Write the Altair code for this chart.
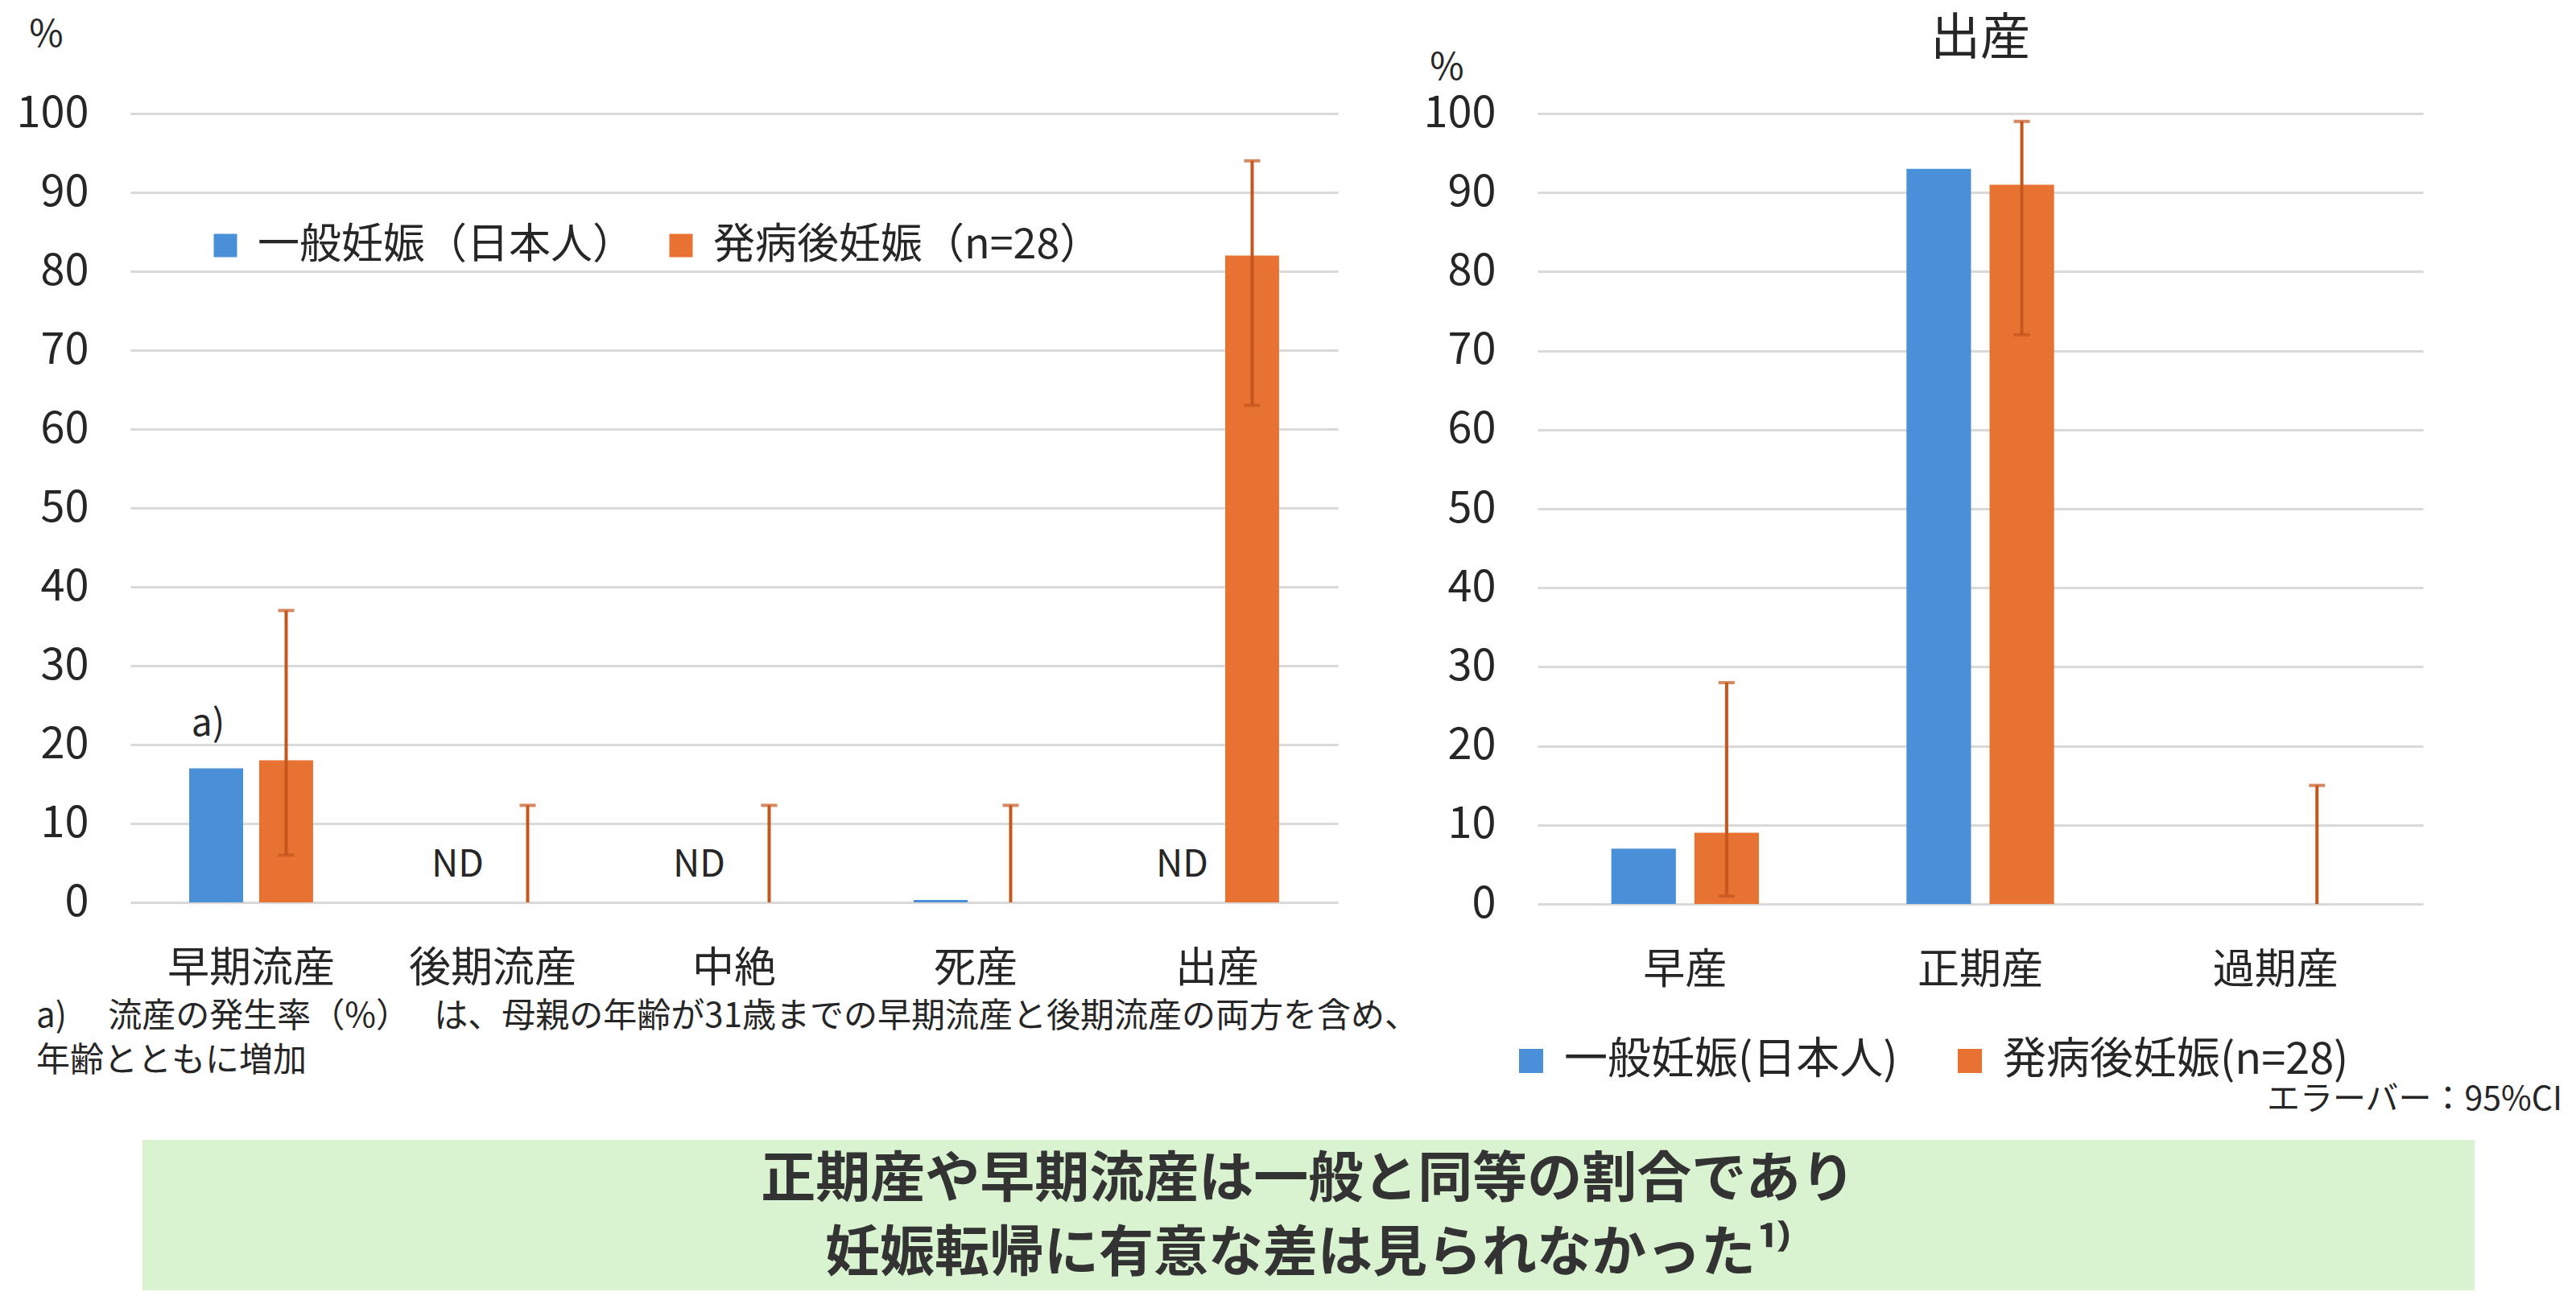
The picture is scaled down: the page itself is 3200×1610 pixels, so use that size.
import altair as alt
import pandas as pd

FONT = "Noto Sans CJK JP"
BLUE = "#4A90D9"
ORANGE = "#E87232"
ERR_C = "#C5561E"
GRID = "#D9D9D9"
TXT = "#262626"

# 左パネル: 妊娠転帰
left_cats = ["早期流産", "後期流産", "中絶", "死産", "出産"]
left_series = ["一般妊娠（日本人）", "発病後妊娠（n=28）"]
left_general = [17, 0, 0, 0.3, 0]
left_onset = [18, 0, 0, 0, 82]
left_ci_lo = [6, 0, 0, 0, 63]
left_ci_hi = [37, 12.3, 12.3, 12.3, 94]
left_nd = ["後期流産", "中絶", "出産"]
left_note = ["早期流産"]

# 右パネル: 出産
right_cats = ["早産", "正期産", "過期産"]
right_series = ["一般妊娠(日本人)", "発病後妊娠(n=28)"]
right_general = [7, 93, 0]
right_onset = [9, 91, 0]
right_ci_lo = [1, 72, 0]
right_ci_hi = [28, 99, 15]

y_ticks = list(range(0, 101, 10))

footnote = ["a)　  流産の発生率（%）　   は、母親の年齢が31歳までの早期流産と後期流産の両方を含め、",
            "年齢とともに増加"]
ci_note = "エラーバー：95%CI"
summary = ["正期産や早期流産は一般と同等の割合であり", "妊娠転帰に有意な差は見られなかった¹⁾"]


def panel(cats, series, general, onset, lo, hi, pad, inner, yaxis, legend):
    bars = pd.DataFrame({"cat": cats * 2,
                         "series": [series[0]] * len(cats) + [series[1]] * len(cats),
                         "value": general + onset})
    err = pd.DataFrame({"cat": cats, "series": series[1], "lo": lo, "hi": hi})

    x = alt.X("cat:N", sort=cats, title=None,
              scale=alt.Scale(paddingInner=pad, paddingOuter=pad / 2),
              axis=alt.Axis(labelAngle=0, labelFontSize=52, labelPadding=57, labelColor=TXT,
                            labelLimit=600, domain=False, ticks=False, grid=False))
    xo = alt.XOffset("series:N", sort=series, scale=alt.Scale(domain=series, paddingInner=inner))
    ysc = alt.Scale(domain=[0, 100])

    b = alt.Chart(bars).mark_bar().encode(
        x=x, xOffset=xo,
        y=alt.Y("value:Q", scale=ysc, axis=yaxis),
        color=alt.Color("series:N", scale=alt.Scale(domain=series, range=[BLUE, ORANGE]), legend=legend))
    rule = alt.Chart(err).mark_rule(color=ERR_C, strokeWidth=4).encode(
        x=x, xOffset=xo, y=alt.Y("lo:Q", scale=ysc, axis=yaxis), y2="hi:Q")
    cap_hi = alt.Chart(err).mark_tick(color=ERR_C, thickness=4, size=20, orient="horizontal").encode(
        x=x, xOffset=xo, y=alt.Y("hi:Q", scale=ysc, axis=yaxis))
    cap_lo = alt.Chart(err).transform_filter("datum.lo > 0").mark_tick(
        color=ERR_C, thickness=4, size=20, orient="horizontal").encode(
        x=x, xOffset=xo, y=alt.Y("lo:Q", scale=ysc, axis=yaxis))
    return [b, rule, cap_hi, cap_lo], x, xo, ysc, bars


def y_axis(tx, ty):
    return alt.Axis(values=y_ticks, title="%", titleAngle=0, titleX=tx, titleY=ty,
                    titleAlign="center", titleBaseline="middle", titleFontSize=46,
                    titleFontWeight="normal", titleColor=TXT, labelFontSize=54, labelColor=TXT,
                    labelPadding=52, domain=False, ticks=False, gridColor=GRID, gridWidth=3)


left_legend = alt.Legend(title=None, orient="none", legendX=92, legendY=138, direction="horizontal",
                         symbolType="square", symbolSize=841, symbolStrokeWidth=0, labelFontSize=52,
                         labelColor=TXT, labelLimit=1000, columnPadding=31, labelOffset=14, padding=0)

layers_l, x_l, xo_l, ysc_l, bars_l = panel(left_cats, left_series, left_general, left_onset,
                                           left_ci_lo, left_ci_hi, 0.487, 0.23,
                                           y_axis(-105, -98), left_legend)

nd = alt.Chart(pd.DataFrame({"cat": left_nd, "series": left_series[0], "t": "ND"})).mark_text(
    fontSize=46, color=TXT, baseline="middle", dy=-46).encode(
    x=x_l, xOffset=xo_l, y=alt.datum(0, scale=ysc_l), text="t:N")
note_a = alt.Chart(bars_l[(bars_l["cat"].isin(left_note)) & (bars_l["series"] == left_series[0])]
                   .assign(t="a)")).mark_text(
    fontSize=46, color=TXT, baseline="alphabetic", dy=-40, dx=-10).encode(
    x=x_l, xOffset=xo_l, y=alt.Y("value:Q", scale=ysc_l), text="t:N")

one = pd.DataFrame({"k": [0]})
foot = alt.Chart(one).mark_text(
    fontSize=42, color=TXT, align="left", baseline="top", lineHeight=55).encode(
    x=alt.value(-117), y=alt.value(1102), text=alt.value(footnote))

# まとめの枠 (左右パネルの下に横断)
box = alt.Chart(one).mark_rect(color="#D9F2D0").encode(
    x=alt.value(15), x2=alt.value(2912), y=alt.value(1275), y2=alt.value(1462))
box_txt = alt.Chart(one).mark_text(
    fontSize=68, fontWeight="bold", color="#333333", baseline="middle", lineHeight=92).encode(
    x=alt.value(1463), y=alt.value(1326), text=alt.value(summary))

left = alt.layer(*layers_l, nd, note_a, foot, box, box_txt).properties(width=1500, height=980)

right_legend = alt.Legend(title=None, orient="none", legendX=-35, legendY=1150, direction="horizontal",
                          symbolType="square", symbolSize=900, symbolStrokeWidth=0, labelFontSize=54,
                          labelColor=TXT, labelLimit=1000, columnPadding=62, labelOffset=14, padding=0)

layers_r, x_r, xo_r, ysc_r, bars_r = panel(right_cats, right_series, right_general, right_onset,
                                           right_ci_lo, right_ci_hi, 0.5, 0.223,
                                           y_axis(-113, -57), right_legend)
ci_txt = alt.Chart(one).mark_text(
    fontSize=41, color=TXT, align="right", baseline="middle").encode(
    x=alt.value(1273), y=alt.value(1226), text=alt.value(ci_note))

right = alt.layer(*layers_r, ci_txt).properties(
    width=1100, height=982,
    title=alt.TitleParams("出産", fontSize=62, fontWeight="normal", color=TXT, frame="group", offset=-20))

chart = alt.hconcat(left, right, spacing=248, bounds="flush",
                    padding={"left": 12, "top": 10, "right": 0, "bottom": 0}).resolve_scale(
    color="independent", xOffset="independent").configure(font=FONT).configure_view(stroke=None)

chart.save("out.html", embed_options={"renderer": "svg", "actions": False})
